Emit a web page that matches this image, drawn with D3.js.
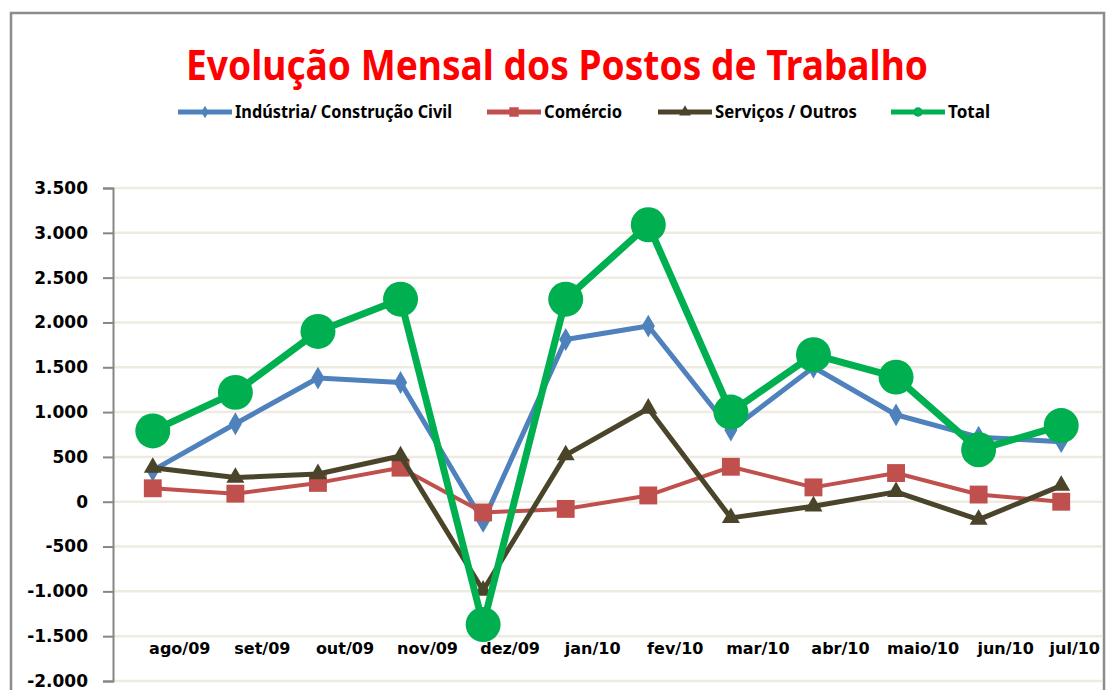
<!DOCTYPE html>
<html>
<head>
<meta charset="utf-8">
<script src="https://cdn.jsdelivr.net/npm/d3@7"></script>
<style>
  body { margin: 0; background: #fff; }
  svg { display: block; }
</style>
</head>
<body>
<svg id="chart" width="1106" height="690"></svg>
<script>
// data
var months = ["ago/09","set/09","out/09","nov/09","dez/09","jan/10","fev/10","mar/10","abr/10","maio/10","jun/10","jul/10"]
var industria = [350, 870, 1380, 1330, -220, 1810, 1960, 800, 1500, 970, 720, 670]
var comercio  = [150, 90, 210, 380, -120, -80, 70, 390, 160, 320, 80, 0]
var servicos  = [380, 270, 310, 510, -990, 520, 1040, -180, -50, 110, -200, 180]
var total     = [790, 1220, 1900, 2260, -1370, 2260, 3090, 1000, 1640, 1390, 580, 850]
var yTicks = [-2000, -1500, -1000, -500, 0, 500, 1000, 1500, 2000, 2500, 3000, 3500]

var series = [
  {name: "Indústria/ Construção Civil", values: industria, color: "#4F81BD", width: 5, sym: d3.symbolDiamond, size: 150, lsize: 45, tx: 235, tw: 217},
  {name: "Comércio", values: comercio, color: "#C0504D", width: 4, sym: d3.symbolSquare, size: 320, lsize: 90, tx: 544, tw: 78},
  {name: "Serviços / Outros", values: servicos, color: "#4A452A", width: 5, sym: d3.symbolTriangle, size: 140, lsize: 60, tx: 715, tw: 142},
  {name: "Total", values: total, color: "#00B050", width: 7, sym: d3.symbolCircle, size: 960, lsize: 70, tx: 948, tw: 42}
]

var svg = d3.select("#chart")

// outer chart border
svg.append("rect")
  .attr("x", 11).attr("y", 13)
  .attr("width", 1093).attr("height", 700)
  .attr("fill", "#fff")
  .attr("stroke", "#8c8c8c")
  .attr("stroke-width", 2.5)

// title
svg.append("text")
  .attr("x", 557).attr("y", 80)
  .attr("text-anchor", "middle")
  .attr("textLength", 742)
  .attr("lengthAdjust", "spacingAndGlyphs")
  .style("font-family", "'Noto Sans', sans-serif")
  .style("font-weight", "bold")
  .style("font-size", "42px")
  .style("fill", "#FF0000")
  .text("Evolução Mensal dos Postos de Trabalho")

var x = d3.scalePoint()
  .domain(months)
  .range([111.5, 1102.5])
  .padding(0.5)

var y = d3.scaleLinear()
  .domain([-2000, 3500])
  .range([681, 188])

var plot = svg.append("g")

// gridlines
plot.selectAll(".grid")
  .data(yTicks)
  .enter().append("line")
  .attr("x1", 113).attr("x2", 1102)
  .attr("y1", d => y(d)).attr("y2", d => y(d))
  .attr("stroke", "#EEECE1")
  .attr("stroke-width", 2.5)

// y axis
var loc = d3.formatLocale({decimal: ",", thousands: ".", grouping: [3], currency: ["", ""], minus: "-"})
var yAxis = d3.axisLeft(y)
  .tickValues(yTicks)
  .tickSize(10)
  .tickPadding(15)
  .tickFormat(loc.format(",d"))

var gy = svg.append("g")
  .attr("transform", "translate(113,0)")
  .call(yAxis)
gy.select(".domain").attr("stroke", "#868686").attr("stroke-width", 2)
gy.selectAll(".tick line").attr("stroke", "#868686").attr("stroke-width", 2)
gy.selectAll(".tick text")
  .style("font-family", "'DejaVu Sans', sans-serif")
  .style("font-weight", "bold")
  .style("font-size", "17px")
  .attr("fill", "#000")

// x labels (they sit a bit right of the points in the original)
plot.selectAll(".xlab")
  .data(months)
  .enter().append("text")
  .attr("x", (d, i) => i == months.length - 1 ? 1100 : x(d) + 27)
  .attr("y", 654)
  .attr("text-anchor", (d, i) => i == months.length - 1 ? "end" : "middle")
  .style("font-family", "'DejaVu Sans', sans-serif")
  .style("font-weight", "bold")
  .style("font-size", "16px")
  .attr("fill", "#000")
  .text(d => d)

// lines and markers
var line = d3.line()
  .x((d, i) => x(months[i]))
  .y(d => y(d))

series.forEach(function(s) {
  var g = plot.append("g")
  g.append("path")
    .datum(s.values)
    .attr("d", line)
    .attr("fill", "none")
    .attr("stroke", s.color)
    .attr("stroke-width", s.width)
    .attr("stroke-linejoin", "round")
  g.selectAll(".mk")
    .data(s.values)
    .enter().append("path")
    .attr("transform", (d, i) => "translate(" + x(months[i]) + "," + y(d) + ")")
    .attr("d", d3.symbol().type(s.sym).size(s.size))
    .attr("fill", s.color)
})

// legend
var leg = svg.append("g")
series.forEach(function(s) {
  var lx = s.tx - 57
  leg.append("line")
    .attr("x1", lx).attr("x2", lx + 54)
    .attr("y1", 112).attr("y2", 112)
    .attr("stroke", s.color)
    .attr("stroke-width", 5)
  leg.append("path")
    .attr("transform", "translate(" + (lx + 27) + ",112)")
    .attr("d", d3.symbol().type(s.sym).size(s.lsize))
    .attr("fill", s.color)
  leg.append("text")
    .attr("x", s.tx).attr("y", 118)
    .attr("textLength", s.tw)
    .attr("lengthAdjust", "spacingAndGlyphs")
    .style("font-family", "'Noto Sans', sans-serif")
    .style("font-weight", "bold")
    .style("font-size", "17px")
    .attr("fill", "#000")
    .text(s.name)
})
</script>
</body>
</html>
